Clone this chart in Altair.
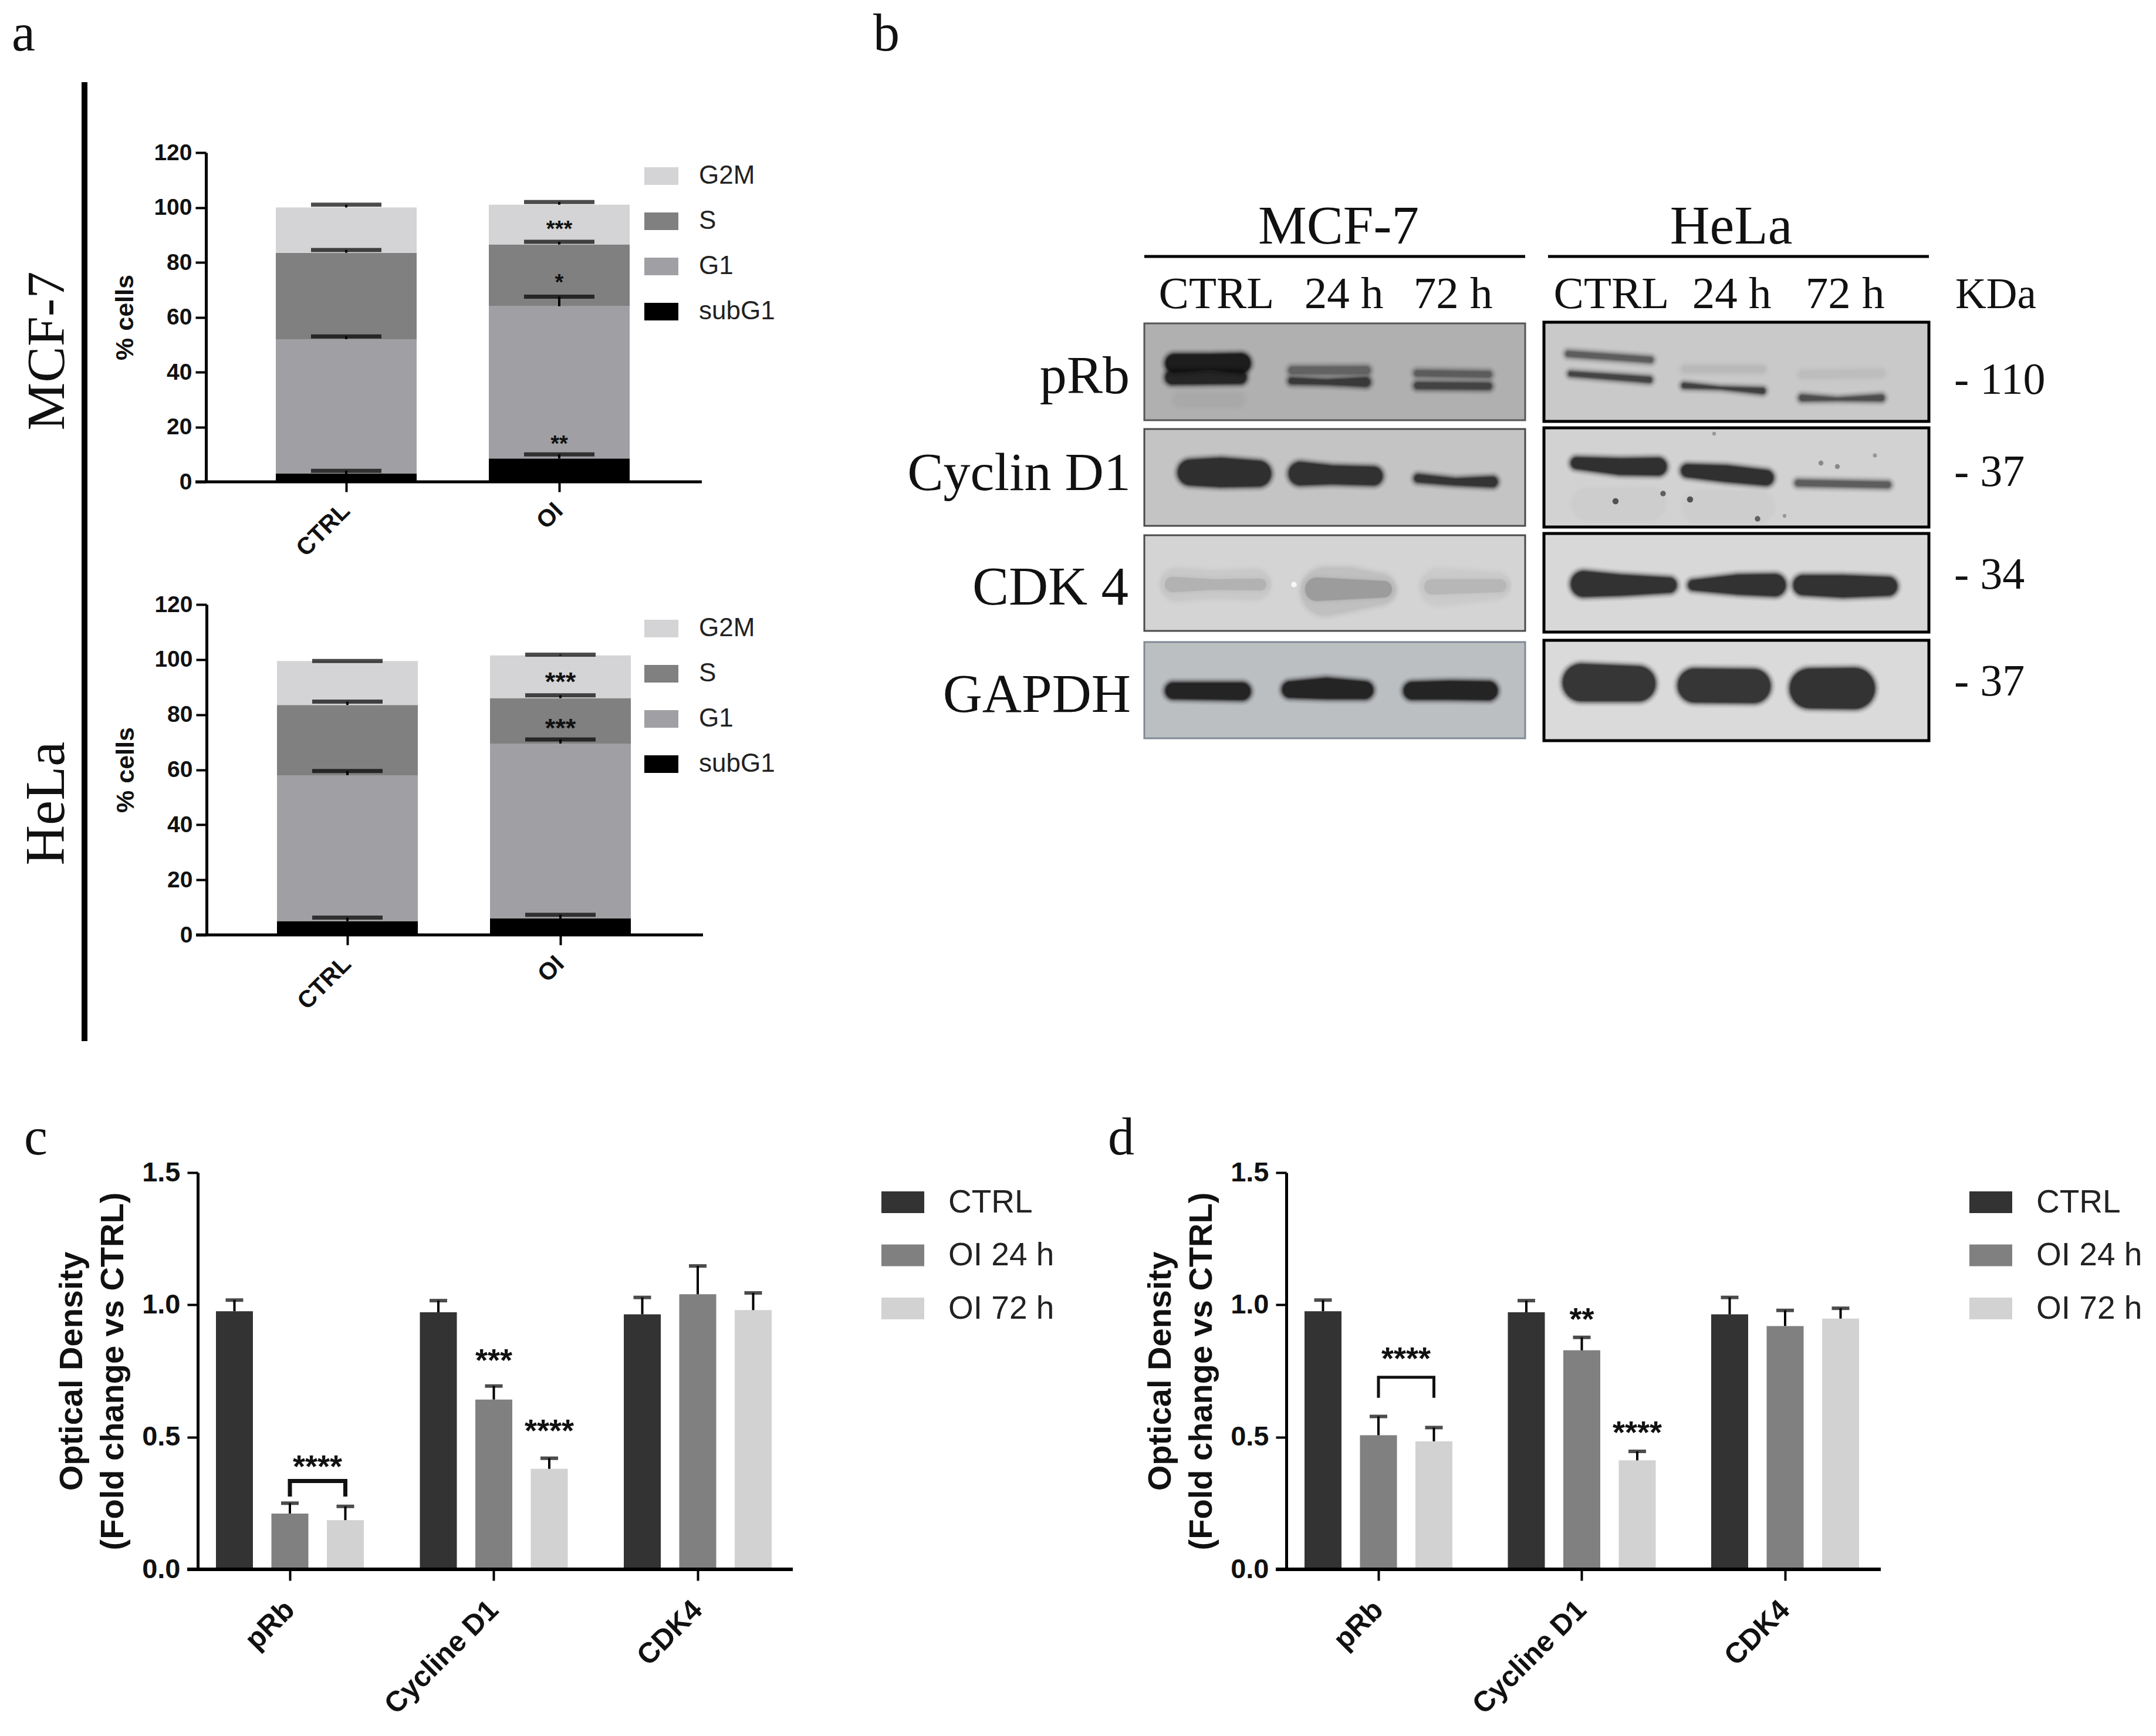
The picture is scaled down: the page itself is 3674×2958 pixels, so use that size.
import altair as alt
import pandas as pd

SANS = "Liberation Sans"
SERIF = "Liberation Serif"
W, H = 3658, 2942

# ---- panel a ----
phases = ["subG1", "G1", "S", "G2M"]
phase_colors = ["#000000", "#a0a0a4", "#808080", "#d4d4d6"]
conds = ["CTRL", "OI"]
mcf_ctrl_seg = [3, 49, 31.5, 16.5]
mcf_oi_seg = [8.5, 55.5, 22.5, 14.5]
mcf_ctrl_err = [4, 53, 84.5, 101]
mcf_oi_err = [10, 67.5, 87.5, 102]
hela_ctrl_seg = [5, 53, 25.5, 16]
hela_oi_seg = [6, 63.5, 16.5, 15.5]
hela_ctrl_err = [6.3, 59.5, 84.7, 99.5]
hela_oi_err = [7.3, 71, 87, 101.8]
mcf_stars = [("OI", 93, "***"), ("OI", 73.5, "*"), ("OI", 14.6, "**")]
hela_stars = [("OI", 92.9, "***"), ("OI", 76.2, "***")]

# ---- panels c, d ----
targets = ["pRb", "Cycline D1", "CDK4"]
series = ["CTRL", "OI 24 h", "OI 72 h"]
series_colors = ["#333333", "#808080", "#d2d2d2"]
c_val = [[0.976, 0.211, 0.186], [0.972, 0.642, 0.38], [0.964, 1.04, 0.98]]
c_err = [[1.018, 0.25, 0.238], [1.016, 0.693, 0.42], [1.028, 1.147, 1.045]]
d_val = [[0.976, 0.507, 0.484], [0.972, 0.828, 0.412], [0.964, 0.92, 0.948]]
d_err = [[1.018, 0.578, 0.536], [1.016, 0.877, 0.446], [1.028, 0.979, 0.987]]
c_stars = [("Cycline D1", "OI 24 h", 0.807, "***"), ("Cycline D1", "OI 72 h", 0.542, "****")]
d_stars = [("Cycline D1", "OI 24 h", 0.964, "**"), ("Cycline D1", "OI 72 h", 0.534, "****")]
c_bracket = (0.283, 0.334, 0.407)
d_bracket = (0.654, 0.726, 0.814)

# ---- panel b: membranes (left, top, right, bottom, fill, border, border width) ----
membranes = [
    (1950, 551, 2599, 716, "#b0b0b0", "#555555", 3),
    (1950, 731, 2599, 896, "#c4c4c4", "#4a4a4a", 3),
    (1950, 912, 2599, 1075, "#d4d4d4", "#4a4a4a", 3),
    (1950, 1094, 2599, 1258, "#bcbfc2", "#7f8a95", 3),
    (2631, 549, 3287, 718, "#c9c9c9", "#000000", 5),
    (2631, 729, 3287, 898, "#d2d2d2", "#000000", 5),
    (2631, 909, 3287, 1077, "#d8d8d8", "#000000", 5),
    (2631, 1091, 3287, 1262, "#dadada", "#000000", 5),
]
# bands: membrane index, colour, points (x, y, thickness) local to that membrane
bands = [
    (0, "#a9a9a9", [(50, 130, 24), (170, 130, 24)]),
    (0, "#0a0a0a", [(35, 68, 34), (110, 66, 30), (182, 68, 36)]),
    (0, "#141414", [(35, 92, 26), (175, 92, 24)]),
    (0, "#585858", [(245, 80, 15), (386, 80, 16)]),
    (0, "#2a2a2a", [(245, 98, 13), (310, 100, 11), (386, 100, 18)]),
    (0, "#525252", [(459, 85, 13), (593, 87, 13)]),
    (0, "#363636", [(459, 106, 14), (593, 107, 14)]),
    (1, "#1c1c1c", [(56, 74, 46), (130, 74, 52), (217, 76, 46)]),
    (1, "#1e1e1e", [(245, 76, 42), (320, 78, 34), (407, 80, 34)]),
    (1, "#222222", [(459, 84, 16), (530, 90, 14), (603, 90, 20)]),
    (2, "#c8c8c8", [(28, 84, 56), (120, 84, 46), (214, 84, 52)]),
    (2, "#a8a8a8", [(33, 84, 30), (120, 84, 22), (210, 84, 24)]),
    (2, "#bebebe", [(267, 96, 84), (350, 92, 76), (428, 92, 56)]),
    (2, "#8c8c8c", [(272, 92, 44), (350, 92, 38), (424, 92, 32)]),
    (2, "#cacaca", [(470, 88, 64), (621, 86, 46)]),
    (2, "#afafaf", [(475, 88, 30), (619, 86, 26)]),
    (3, "#111111", [(35, 83, 30), (182, 84, 32)]),
    (3, "#111111", [(234, 81, 30), (310, 79, 38), (391, 82, 32)]),
    (3, "#111111", [(441, 83, 32), (520, 82, 34), (603, 83, 34)]),
    (4, "#505050", [(36, 54, 12), (187, 64, 12)]),
    (4, "#333333", [(41, 88, 10), (185, 98, 12)]),
    (4, "#b8b8b8", [(234, 80, 14), (378, 80, 14)]),
    (4, "#2e2e2e", [(234, 108, 11), (300, 112, 6), (378, 117, 12)]),
    (4, "#bcbcbc", [(434, 89, 14), (581, 87, 14)]),
    (4, "#3e3e3e", [(434, 129, 13), (500, 131, 7), (581, 129, 13)]),
    (5, "#cdcdcd", [(50, 130, 50), (205, 130, 50)]),
    (5, "#cdcdcd", [(238, 135, 50), (390, 135, 50)]),
    (5, "#1c1c1c", [(45, 60, 22), (130, 66, 30), (210, 66, 32)]),
    (5, "#1c1c1c", [(233, 73, 24), (310, 78, 30), (392, 85, 28)]),
    (5, "#4e4e4e", [(427, 94, 13), (592, 97, 13)]),
    (6, "#1e1e1e", [(45, 86, 46), (130, 88, 38), (227, 88, 28)]),
    (6, "#1e1e1e", [(245, 88, 20), (330, 87, 36), (413, 88, 40)]),
    (6, "#1e1e1e", [(424, 88, 36), (510, 90, 40), (603, 90, 34)]),
    (7, "#222222", [(31, 72, 66), (191, 74, 62)]),
    (7, "#222222", [(227, 77, 60), (387, 78, 60)]),
    (7, "#1e1e1e", [(418, 82, 70), (565, 82, 72)]),
]
specks = [
    (2, "#ffffff", 255, 84, 90),
    (5, "#333333", 122, 125, 110), (5, "#444444", 203, 112, 90), (5, "#333333", 249, 122, 110),
    (5, "#444444", 364, 155, 90), (5, "#777777", 472, 60, 70), (5, "#777777", 500, 66, 70),
    (5, "#888888", 564, 47, 50), (5, "#888888", 290, 10, 40), (5, "#888888", 410, 150, 40),
]

# ---- free text: text, x, y, size, family, weight, align, angle ----
labels = [
    ("a", 20, 86, 90, SERIF, "normal", "left", 0),
    ("b", 1488, 86, 90, SERIF, "normal", "left", 0),
    ("c", 41, 1967, 90, SERIF, "normal", "left", 0),
    ("d", 1888, 1967, 90, SERIF, "normal", "left", 0),
    ("MCF-7", 109, 598, 92, SERIF, "normal", "center", 270),
    ("HeLa", 109, 1369, 95, SERIF, "normal", "center", 270),
    ("MCF-7", 2281, 415, 93, SERIF, "normal", "center", 0),
    ("HeLa", 2950, 415, 94, SERIF, "normal", "center", 0),
    ("CTRL", 2073, 525, 77, SERIF, "normal", "center", 0),
    ("24 h", 2290, 525, 77, SERIF, "normal", "center", 0),
    ("72 h", 2476, 525, 77, SERIF, "normal", "center", 0),
    ("CTRL", 2746, 525, 77, SERIF, "normal", "center", 0),
    ("24 h", 2951, 525, 77, SERIF, "normal", "center", 0),
    ("72 h", 3144, 525, 77, SERIF, "normal", "center", 0),
    ("KDa", 3332, 525, 73, SERIF, "normal", "left", 0),
    ("pRb", 1925, 670, 92, SERIF, "normal", "right", 0),
    ("Cyclin D1", 1927, 835, 92, SERIF, "normal", "right", 0),
    ("CDK 4", 1923, 1030, 93, SERIF, "normal", "right", 0),
    ("GAPDH", 1927, 1213, 93, SERIF, "normal", "right", 0),
    ("- 110", 3330, 671, 76, SERIF, "normal", "left", 0),
    ("- 37", 3330, 828, 76, SERIF, "normal", "left", 0),
    ("- 34", 3330, 1003, 76, SERIF, "normal", "left", 0),
    ("- 37", 3330, 1185, 76, SERIF, "normal", "left", 0),
]
# straight decorations: x1, y1, x2, y2, width
lines = [
    (144, 140, 144, 1774, 10),
    (1950, 437, 2599, 437, 5),
    (2638, 437, 3287, 437, 5),
]

ONE = alt.Data(values=[{"k": 1}])


def decor():
    layers = []
    for (t, x, y, size, fam, wt, al, ang) in labels:
        layers.append(
            alt.Chart(alt.Data(values=[{"t": t}]))
            .mark_text(font=fam, fontSize=size, fontWeight=wt, align=al,
                       baseline="alphabetic", angle=ang, color="#111111")
            .encode(x=alt.value(x - 8), y=alt.value(y - 8), text="t:N")
        )
    for (x1, y1, x2, y2, sw) in lines:
        layers.append(
            alt.Chart(ONE).mark_rule(color="#000000", strokeWidth=sw)
            .encode(x=alt.value(x1 - 8), x2=alt.value(x2 - 8),
                    y=alt.value(y1 - 8), y2=alt.value(y2 - 8))
        )
    return layers


def stacked(seg, err, stars, x0, x1, y_top, y_zero, star_size, centers, leg_y):
    """x0..x1, y_top..y_zero are the plot rectangle on the page."""
    ox, oyb, oyt = x0 - 8, y_zero - 8, y_top - 8
    rows = []
    for ci, cond in enumerate(conds):
        cum = 0
        for pi, ph in enumerate(phases):
            rows.append({"cond": cond, "phase": ph, "ord": pi, "lo": cum,
                         "hi": cum + seg[ci][pi], "err": err[ci][pi]})
            cum += seg[ci][pi]
    df = pd.DataFrame(rows)
    step = centers[1] - centers[0]
    xs = alt.Scale(domain=conds, paddingInner=0, paddingOuter=0,
                   range=[centers[0] - 8 - step / 2, centers[1] - 8 + step / 2])
    ys = alt.Scale(domain=[0, 120], nice=False, range=[oyb, oyt])
    x = alt.X("cond:N", scale=xs, title=None,
              axis=alt.Axis(orient="bottom", offset=oyb - H, labelAngle=-45, labelFont=SANS,
                            labelFontWeight="bold", labelFontSize=41, labelColor="#111111",
                            labelAlign="right", labelBaseline="middle", labelPadding=26,
                            labelLimit=500, tickSize=17, tickWidth=4, tickColor="#000000",
                            domain=False, grid=False))
    y = alt.Y("lo:Q", scale=ys, title="% cells",
              axis=alt.Axis(orient="left", offset=-ox, values=list(range(0, 121, 20)),
                            tickSize=18, tickWidth=4, tickColor="#000000",
                            domainColor="#000000", domainWidth=5, labelFont=SANS,
                            labelFontWeight="bold", labelFontSize=39, labelColor="#111111",
                            labelPadding=6, grid=False, titleFont=SANS, titleFontWeight="bold",
                            titleFontSize=43, titleColor="#111111", titlePadding=26))
    path = "M-1,-0.52H1V0.52H-1Z"
    bars = alt.Chart(df).mark_bar(width=240).encode(
        x=x, y=y, y2="hi:Q",
        color=alt.Color("phase:N",
                        scale=alt.Scale(domain=phases, range=phase_colors),
                        legend=alt.Legend(orient="none", legendX=1090, legendY=leg_y, title=None,
                                          symbolType=path, symbolSize=3364,
                                          symbolStrokeWidth=0, symbolOpacity=1,
                                          labelFont=SANS, labelFontSize=44, labelColor="#222222",
                                          labelOffset=35, labelLimit=400, rowPadding=26, padding=0,
                                          values=phases[::-1])),
    )
    xp = alt.X("cond:N", scale=xs)
    stems = alt.Chart(df).mark_rule(color="#000000", strokeWidth=4).encode(
        x=xp, y=alt.Y("hi:Q", scale=ys), y2="err:Q")
    caps = alt.Chart(df).mark_tick(color="#000000", size=120, thickness=7, orient="horizontal").encode(
        x=xp, y=alt.Y("err:Q", scale=ys))
    base = alt.Chart(ONE).mark_rule(color="#000000", strokeWidth=5).encode(
        y=alt.Y(datum=0, scale=ys), x=alt.value(ox - 18), x2=alt.value(x1 - 8))
    sdf = pd.DataFrame(stars, columns=["cond", "v", "t"])
    stext = alt.Chart(sdf).mark_text(font=SANS, fontSize=star_size, fontWeight="bold", color="#111111",
                                     baseline="middle", dy=star_size * 0.14).encode(
        x=xp, y=alt.Y("v:Q", scale=ys), text="t:N")
    return alt.layer(bars, stems, caps, stext, base)


def grouped(vals, errs, stars, bracket, bracket_w, x0, x1, y_top, y_zero, centers, offset, leg_x, leg_y):
    ox, oyb, oyt = x0 - 8, y_zero - 8, y_top - 8
    rows = []
    for gi, g in enumerate(targets):
        for si, s in enumerate(series):
            rows.append({"g": g, "s": s, "v": vals[gi][si], "e": errs[gi][si]})
    df = pd.DataFrame(rows)
    step = (centers[-1] - centers[0]) / (len(centers) - 1)
    xs = alt.Scale(domain=targets, paddingInner=0, paddingOuter=0,
                   range=[centers[0] - 8 - step / 2, centers[-1] - 8 + step / 2])
    ys = alt.Scale(domain=[0, 1.5], nice=False, range=[oyb, oyt])
    off = alt.XOffset("s:N", scale=alt.Scale(type="point", domain=series, padding=0,
                                             range=[step / 2 - offset, step / 2 + offset]))
    x = alt.X("g:N", scale=xs, title=None, sort=targets,
              axis=alt.Axis(orient="bottom", offset=oyb - H, labelAngle=-45, labelFont=SANS,
                            labelFontWeight="bold", labelFontSize=49, labelColor="#111111",
                            labelAlign="right", labelBaseline="middle", labelPadding=42,
                            labelLimit=700, tickSize=19, tickWidth=4, tickColor="#000000",
                            domain=False, grid=False))
    y = alt.Y("v:Q", scale=ys, title=["Optical Density", "(Fold change vs CTRL)"],
              axis=alt.Axis(orient="left", offset=-ox, values=[0, 0.5, 1.0, 1.5], format=".1f",
                            tickSize=18, tickWidth=4, tickColor="#000000",
                            domainColor="#000000", domainWidth=5, labelFont=SANS,
                            labelFontWeight="bold", labelFontSize=47, labelColor="#111111",
                            labelPadding=12, grid=False, titleFont=SANS, titleFontWeight="bold",
                            titleFontSize=56, titleColor="#111111", titlePadding=20,
                            titleLineHeight=70, titleLimit=900))
    path = "M-1,-0.507H1V0.507H-1Z"
    bars = alt.Chart(df).mark_bar(width=63).encode(
        x=x, xOffset=off, y=y,
        color=alt.Color("s:N", scale=alt.Scale(domain=series, range=series_colors),
                        legend=alt.Legend(orient="none", legendX=leg_x - 8, legendY=leg_y, title=None,
                                          symbolType=path, symbolSize=5329,
                                          symbolStrokeWidth=0, symbolOpacity=1,
                                          labelFont=SANS, labelFontSize=55, labelColor="#222222",
                                          labelOffset=41, labelLimit=500, rowPadding=25.5, padding=0)),
    )
    xp = alt.X("g:N", scale=xs, sort=targets)
    stems = alt.Chart(df).mark_rule(color="#000000", strokeWidth=4).encode(
        x=xp, xOffset=off, y=alt.Y("v:Q", scale=ys), y2="e:Q")
    caps = alt.Chart(df).mark_tick(color="#000000", size=30, thickness=6, orient="horizontal").encode(
        x=xp, xOffset=off, y=alt.Y("e:Q", scale=ys))
    base = alt.Chart(ONE).mark_rule(color="#000000", strokeWidth=6).encode(
        y=alt.Y(datum=0, scale=ys), x=alt.value(ox - 18), x2=alt.value(x1 - 8))
    sdf = pd.DataFrame(stars, columns=["g", "s", "v", "t"])
    stext = alt.Chart(sdf).mark_text(font=SANS, fontSize=54, fontWeight="bold", color="#111111",
                                     baseline="middle", dy=10).encode(
        x=xp, xOffset=off, y=alt.Y("v:Q", scale=ys), text="t:N")
    lo, hi, star = bracket
    bdf = pd.DataFrame([
        {"g": "pRb", "s": "OI 24 h", "v": lo, "o": 0},
        {"g": "pRb", "s": "OI 24 h", "v": hi, "o": 1},
        {"g": "pRb", "s": "OI 72 h", "v": hi, "o": 2},
        {"g": "pRb", "s": "OI 72 h", "v": lo, "o": 3},
    ])
    br = alt.Chart(bdf).mark_line(color="#111111", strokeWidth=bracket_w, strokeCap="square").encode(
        x=xp, xOffset=off, y=alt.Y("v:Q", scale=ys), order="o:Q")
    btx = alt.Chart(pd.DataFrame([{"g": "pRb", "s": "OI 24 h", "v": star, "t": "****"}])).mark_text(
        font=SANS, fontSize=54, fontWeight="bold", color="#111111", baseline="middle", dy=10, dx=47).encode(
        x=xp, xOffset=off, y=alt.Y("v:Q", scale=ys), text="t:N")
    return alt.layer(bars, stems, caps, stext, br, btx, base)


def blots():
    # membrane coordinates are the page's own, mapped by a plain linear scale
    xs = alt.Scale(domain=[8, 8 + W], range=[0, W], nice=False)
    ys = alt.Scale(domain=[8, 8 + H], range=[0, H], nice=False)
    X = lambda f: alt.X(f, scale=xs, axis=None)
    Y = lambda f: alt.Y(f, scale=ys, axis=None)
    mem = pd.DataFrame([
        {"l": m[0], "t": m[1], "r": m[2], "b": m[3],
         "fill": m[4], "stroke": m[5], "sw": m[6]} for m in membranes])
    layers = [
        alt.Chart(mem[mem.sw == sw]).mark_rect(strokeWidth=sw).encode(
            x=X("l:Q"), x2="r:Q", y=Y("t:Q"), y2="b:Q",
            fill=alt.Fill("fill:N", scale=None), stroke=alt.Stroke("stroke:N", scale=None))
        for sw in sorted(set(m[6] for m in membranes))
    ]
    rows = []
    for bi, (mi, col, pts) in enumerate(bands):
        m = membranes[mi]
        n = len(pts)
        for pi, (px, py, t) in enumerate(pts):
            inset = t / 2 if pi == 0 else (-t / 2 if pi == n - 1 else 0)
            rows.append({"id": bi, "ord": pi, "x": m[0] + px + inset, "y": m[1] + py,
                         "c": col, "t": t})
    df = pd.DataFrame(rows)
    for extra, fac, op in [(16, 1.0, 0.06), (12, 1.0, 0.08), (8, 1.0, 0.12), (5, 1.0, 0.16),
                           (2, 1.0, 0.25), (-1, 1.0, 0.4), (-4, 1.0, 0.6)]:
        d2 = df.copy()
        d2["sz"] = (d2.t * fac + extra).clip(lower=2)
        layers.append(
            alt.Chart(d2).mark_trail(opacity=op).encode(
                x=X("x:Q"), y=Y("y:Q"), detail="id:N", order="ord:Q",
                size=alt.Size("sz:Q", scale=None, legend=None),
                color=alt.Color("c:N", scale=None, legend=None))
        )
    sp = pd.DataFrame([
        {"x": membranes[s[0]][0] + s[2], "y": membranes[s[0]][1] + s[3], "c": s[1], "a": s[4]}
        for s in specks])
    layers.append(
        alt.Chart(sp).mark_circle(opacity=0.8).encode(
            x=X("x:Q"), y=Y("y:Q"), size=alt.Size("a:Q", scale=None, legend=None),
            color=alt.Color("c:N", scale=None, legend=None))
    )
    return alt.layer(*layers)


a_top = stacked([mcf_ctrl_seg, mcf_oi_seg], [mcf_ctrl_err, mcf_oi_err], mcf_stars,
                351, 1196, 260, 821, 38, [590, 953], 263)
a_bot = stacked([hela_ctrl_seg, hela_oi_seg], [hela_ctrl_err, hela_oi_err], hela_stars,
                352, 1198, 1030, 1593, 45, [592, 955], 1034)
panel_c = grouped(c_val, c_err, c_stars, c_bracket, 7, 337, 1351, 1998, 2674, [494, 841, 1189], 94.5, 1502, 2004)
panel_d = grouped(d_val, d_err, d_stars, d_bracket, 5, 2192, 3205, 1998, 2674, [2349, 2696, 3042], 94.5, 3356, 2004)

chart = (
    alt.layer(blots(), a_top, a_bot, panel_c, panel_d, *decor())
    .resolve_scale(x="independent", y="independent", color="independent", xOffset="independent")
    .resolve_axis(x="independent", y="independent")
    .resolve_legend(color="independent")
    .properties(width=W, height=H, padding=0, background="#ffffff")
    .configure_view(stroke=None)
)
chart.save("out.html", embed_options={"renderer": "svg", "actions": False})
